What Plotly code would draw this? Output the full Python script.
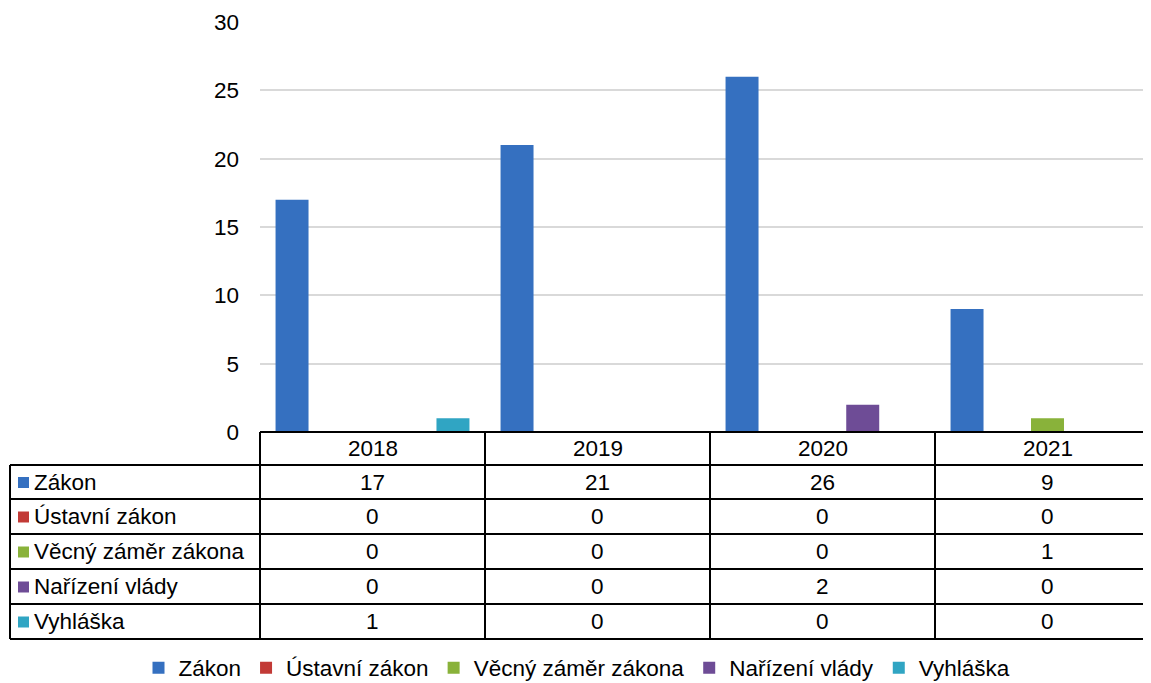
import plotly.graph_objects as go

years = ["2018", "2019", "2020", "2021"]
series_names = ["Zákon", "Ústavní zákon", "Věcný záměr zákona", "Nařízení vlády", "Vyhláška"]
zakon = [17, 21, 26, 9]
ustavni = [0, 0, 0, 0]
vecny = [0, 0, 0, 1]
narizeni = [0, 0, 2, 0]
vyhlaska = [1, 0, 0, 0]
values = [zakon, ustavni, vecny, narizeni, vyhlaska]
colors = ["#3570c0", "#c23a36", "#89b23a", "#6e4c96", "#30a5c3"]
y_ticks = [0, 5, 10, 15, 20, 25, 30]

OFF = 8  # default page body margin
W, H = 1151 - OFF, 683 - OFF
FONT = "Liberation Sans, Arial, sans-serif"
FS = 22.5

def px(x):
    return (x - OFF) / W

def py(y):
    return 1 - (y - OFF) / H

x_idx = list(range(len(years)))

fig = go.Figure()
for name, vals, col in zip(series_names, values, colors):
    fig.add_trace(go.Bar(x=x_idx, y=vals, name=name, marker=dict(color=col, line=dict(width=0))))

# table geometry (screen pixels)
left_x, col0_x = 10, 260
col_w = 225
row_y = [432, 465, 499, 534, 569, 604, 639]

shapes = []
shapes.append(dict(type="line", xref="paper", yref="paper", x0=px(col0_x), x1=1, y0=py(row_y[0]), y1=py(row_y[0]),
                   line=dict(color="black", width=2)))
for yy in row_y[1:]:
    shapes.append(dict(type="line", xref="paper", yref="paper", x0=px(left_x), x1=1, y0=py(yy), y1=py(yy),
                       line=dict(color="black", width=2)))
shapes.append(dict(type="line", xref="paper", yref="paper", x0=px(left_x), x1=px(left_x), y0=py(row_y[1]), y1=py(row_y[-1]),
                   line=dict(color="black", width=2)))
for i in range(len(years)):
    xx = col0_x + i * col_w
    shapes.append(dict(type="line", xref="paper", yref="paper", x0=px(xx), x1=px(xx), y0=py(row_y[0]), y1=py(row_y[-1]),
                       line=dict(color="black", width=2)))

annotations = []
tfont = dict(family=FONT, size=FS, color="black")
for i, yr in enumerate(years):
    cx = col0_x + col_w * (i + 0.5)
    annotations.append(dict(xref="paper", yref="paper", x=px(cx), y=py((row_y[0] + row_y[1]) / 2),
                            text=yr, showarrow=False, font=tfont, xanchor="center", yanchor="middle"))
for r, (name, vals, col) in enumerate(zip(series_names, values, colors)):
    cy = (row_y[r + 1] + row_y[r + 2]) / 2
    shapes.append(dict(type="rect", xref="paper", yref="paper", x0=px(18), x1=px(29), y0=py(cy + 6), y1=py(cy - 5),
                       fillcolor=col, line=dict(width=0)))
    annotations.append(dict(xref="paper", yref="paper", x=px(32), y=py(cy), text=name, showarrow=False,
                            font=tfont, xanchor="left", yanchor="middle"))
    for i, v in enumerate(vals):
        cx = col0_x + col_w * (i + 0.5)
        annotations.append(dict(xref="paper", yref="paper", x=px(cx), y=py(cy), text=str(v), showarrow=False,
                                font=tfont, xanchor="center", yanchor="middle"))

fig.update_layout(
    width=W, height=H,
    margin=dict(l=0, r=0, t=0, b=0, autoexpand=False),
    paper_bgcolor="white", plot_bgcolor="white",
    barmode="group", bargap=0.106, bargroupgap=0.18,
    font=dict(family=FONT, size=FS, color="black"),
    xaxis=dict(domain=[px(col0_x), 1], range=[-0.5, (1151 - col0_x) / col_w - 0.5],
               showticklabels=False, showgrid=False, zeroline=False, showline=False, fixedrange=True),
    yaxis=dict(domain=[py(432), py(22)], range=[0, 30], tickvals=y_ticks,
               showgrid=True, gridcolor="#d9d9d9", gridwidth=2, zeroline=False, showline=False,
               ticks="", ticklabelstandoff=20, tickfont=dict(family=FONT, size=FS, color="black")),
    showlegend=True,
    legend=dict(orientation="h", x=px(577), xanchor="center", y=py(668), yanchor="middle",
                font=dict(family=FONT, size=FS, color="black"), itemwidth=30, traceorder="normal"),
    shapes=shapes,
    annotations=annotations,
)

fig.write_html("out.html")
